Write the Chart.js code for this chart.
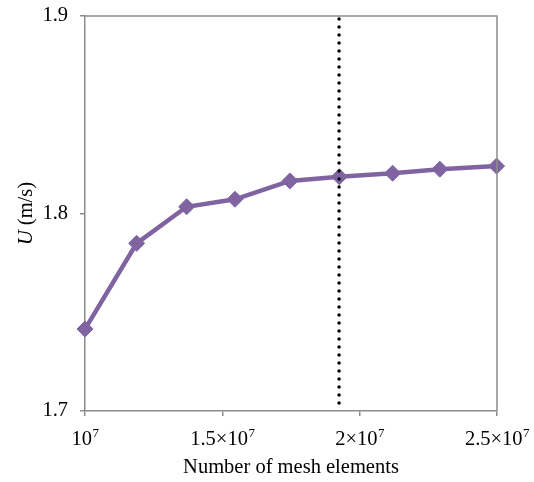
<!DOCTYPE html>
<html lang="en">
<head>
    <meta charset="UTF-8">
    <title>Mesh convergence</title>
    <script src="https://cdn.jsdelivr.net/npm/chart.js"></script>
    <style>
        body {
            margin: 0;
            padding: 0;
            background: #fff;
        }
        #wrap {
            width: 534px;
            height: 482px;
        }
    </style>
</head>
<body>
    <div id="wrap">
        <canvas id="meshChart" width="534" height="482"></canvas>
    </div>

    <script>
        // data
        const meshElements = [1.0e7, 1.188e7, 1.370e7, 1.546e7, 1.746e7, 1.926e7, 2.12e7, 2.292e7, 2.4985e7];
        const velocity = [1.7415, 1.7849, 1.8034, 1.8072, 1.8165, 1.8186, 1.8204, 1.8224, 1.8240];
        const selectedMesh = 1.925e7;
        const xTicks = [1.0e7, 1.5e7, 2.0e7, 2.5e7];
        const xTickBase = ['10', '1.5\u00d710', '2\u00d710', '2.5\u00d710'];
        const xTickExp = ['7', '7', '7', '7'];
        const yTicks = [1.7, 1.8, 1.9];

        const serif = "'Liberation Serif', 'Times New Roman', serif";
        const axisGrey = '#8c8c8c';
        const fontSize = 20.5;

        // frame, x tick labels with superscripts, axis titles
        const textPlugin = {
            id: 'textPlugin',
            afterDraw(chart) {
                const ctx = chart.ctx;
                const area = chart.chartArea;
                const xs = chart.scales.x;
                ctx.save();

                ctx.strokeStyle = axisGrey;
                ctx.lineWidth = 1.5;
                ctx.beginPath();
                ctx.moveTo(area.left, area.top);
                ctx.lineTo(area.right, area.top);
                ctx.lineTo(area.right, area.bottom);
                ctx.stroke();

                ctx.fillStyle = '#000';
                ctx.textBaseline = 'alphabetic';
                ctx.textAlign = 'left';
                xTicks.forEach((v, i) => {
                    ctx.font = fontSize + 'px ' + serif;
                    const wb = ctx.measureText(xTickBase[i]).width;
                    ctx.font = '13px ' + serif;
                    const we = ctx.measureText(xTickExp[i]).width;
                    const x0 = xs.getPixelForValue(v) - (wb + we) / 2;
                    ctx.font = fontSize + 'px ' + serif;
                    ctx.fillText(xTickBase[i], x0, 445);
                    ctx.font = '13px ' + serif;
                    ctx.fillText(xTickExp[i], x0 + wb + 0.5, 437);
                });

                ctx.font = fontSize + 'px ' + serif;
                ctx.textAlign = 'center';
                ctx.fillText('Number of mesh elements', (area.left + area.right) / 2, 473);

                // y title: italic U + (m/s)
                ctx.translate(32, (area.top + area.bottom) / 2);
                ctx.rotate(-Math.PI / 2);
                ctx.textAlign = 'left';
                ctx.font = 'italic ' + fontSize + 'px ' + serif;
                const wU = ctx.measureText('U').width;
                ctx.font = fontSize + 'px ' + serif;
                const wRest = ctx.measureText(' (m/s)').width;
                const start = -(wU + wRest) / 2;
                ctx.font = 'italic ' + fontSize + 'px ' + serif;
                ctx.fillText('U', start, 0);
                ctx.font = fontSize + 'px ' + serif;
                ctx.fillText(' (m/s)', start + wU, 0);

                ctx.restore();
            }
        };

        const ctx = document.getElementById('meshChart').getContext('2d');
        new Chart(ctx, {
            type: 'line',
            data: {
                datasets: [
                    {
                        data: [{ x: selectedMesh, y: 1.9 }, { x: selectedMesh, y: 1.7 }],
                        borderColor: '#000',
                        borderWidth: 3.5,
                        borderDash: [0, 8],
                        borderDashOffset: -3,
                        borderCapStyle: 'round',
                        pointRadius: 0,
                        fill: false,
                        order: 0,
                        clip: false
                    },
                    {
                        data: meshElements.map((m, i) => ({ x: m, y: velocity[i] })),
                        borderColor: '#8064a2',
                        borderWidth: 4.5,
                        pointStyle: 'rectRot',
                        pointRadius: 8,
                        pointBackgroundColor: '#8064a2',
                        pointBorderColor: '#8064a2',
                        pointBorderWidth: 1,
                        tension: 0,
                        fill: false,
                        order: 1,
                        clip: false
                    }
                ]
            },
            options: {
                responsive: false,
                animation: false,
                layout: {
                    autoPadding: false,
                    padding: { top: 16, right: 37, left: 0, bottom: 0 }
                },
                plugins: {
                    legend: { display: false },
                    tooltip: { enabled: false }
                },
                scales: {
                    x: {
                        type: 'linear',
                        min: 1.0e7,
                        max: 2.5e7,
                        afterBuildTicks: s => { s.ticks = xTicks.map(v => ({ value: v })); },
                        afterFit: s => { s.height = 71; s.paddingLeft = 0; s.paddingRight = 0; },
                        ticks: { display: false },
                        grid: { drawOnChartArea: false, drawTicks: true, tickLength: 5, color: axisGrey, lineWidth: 1.5 },
                        border: { color: axisGrey, width: 1.5 }
                    },
                    y: {
                        min: 1.7,
                        max: 1.9,
                        afterBuildTicks: s => { s.ticks = yTicks.map(v => ({ value: v })); },
                        afterFit: s => { s.width = 85; s.paddingTop = 0; s.paddingBottom = 0; },
                        ticks: {
                            padding: 12,
                            color: '#000',
                            font: { family: serif, size: fontSize },
                            callback: v => v.toFixed(1)
                        },
                        grid: { drawOnChartArea: false, drawTicks: true, tickLength: 5, color: axisGrey, lineWidth: 1.5 },
                        border: { color: axisGrey, width: 1.5 }
                    }
                }
            },
            plugins: [textPlugin]
        });
    </script>
</body>
</html>
